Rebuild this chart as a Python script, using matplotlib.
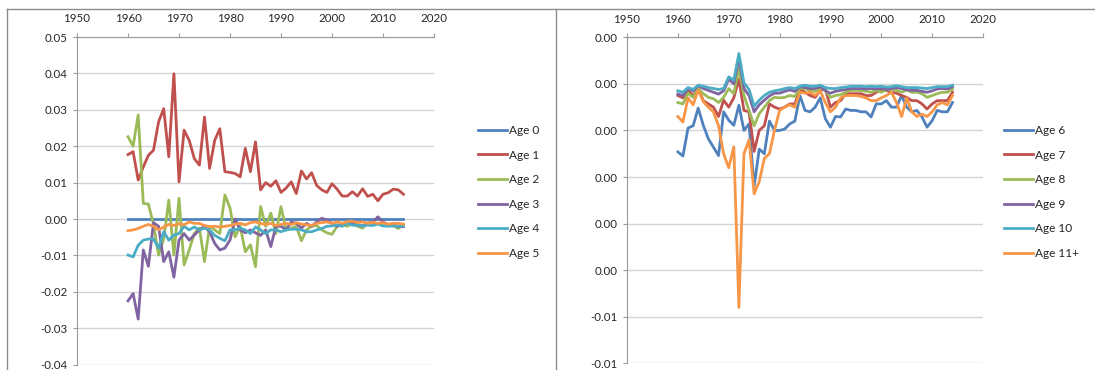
import matplotlib
matplotlib.use("Agg")
import matplotlib.pyplot as plt
from matplotlib.lines import Line2D

# ---------------- data ----------------
years = list(range(1960, 2015))

x_ticks = [1950, 1960, 1970, 1980, 1990, 2000, 2010, 2020]

left_labels = ["Age 0", "Age 1", "Age 2", "Age 3", "Age 4", "Age 5"]
left_yticks = [-0.04, -0.03, -0.02, -0.01, 0.00, 0.01, 0.02, 0.03, 0.04, 0.05]

age0 = [0.0] * 55
age1 = [.0177, .0185, .0107, .0143, .0175, .0189, .0267, .0303, .0171, .0399,
        .0102, .0244, .0216, .0166, .0148, .0280, .0139, .0216, .0248, .0130,
        .0128, .0125, .0116, .0194, .0130, .0212, .0080, .0100, .0090, .0105,
        .0073, .0085, .0102, .0070, .0132, .0110, .0127, .0092, .0080, .0073,
        .0097, .0082, .0063, .0063, .0075, .0063, .0083, .0062, .0068, .0050,
        .0068, .0072, .0082, .0080, .0068]
age2 = [.0226, .0200, .0286, .0043, .0041, -.0015, -.0099, -.0055, .0052, -.0099,
        .0057, -.0126, -.0085, -.0040, -.0025, -.0117, -.0020, -.0030, -.0040, .0066,
        .0030, -.0049, -.0020, -.0090, -.0071, -.0131, .0034, -.0020, .0016, -.0040,
        .0034, -.0030, -.0025, -.0020, -.0060, -.0030, -.0020, -.0018, -.0030, -.0038,
        -.0042, -.0020, -.0015, -.0020, -.0012, -.0020, -.0025, -.0010, -.0015, -.0012,
        -.0018, -.0018, -.0018, -.0026, -.0015]
age3 = [-.0225, -.0205, -.0275, -.0085, -.0130, -.0010, -.0020, -.0117, -.0090, -.0160,
        -.0058, -.0040, -.0058, -.0044, -.0030, -.0020, -.0035, -.0067, -.0085, -.0080,
        -.0058, .0000, -.0030, -.0038, -.0030, -.0038, -.0045, -.0030, -.0076, -.0020,
        -.0020, -.0030, -.0008, -.0012, -.0025, -.0012, -.0020, -.0008, .0002, -.0003,
        -.0012, -.0020, -.0016, -.0010, -.0010, -.0016, -.0019, -.0012, -.0008, .0006,
        -.0008, -.0016, -.0016, -.0021, -.0021]
age4 = [-.0099, -.0104, -.0072, -.0058, -.0055, -.0055, -.0080, -.0035, -.0058, -.0044,
        -.0040, -.0020, -.0030, -.0022, -.0030, -.0025, -.0030, -.0045, -.0053, -.0060,
        -.0030, -.0030, -.0025, -.0030, -.0040, -.0022, -.0030, -.0040, -.0030, -.0030,
        -.0035, -.0030, -.0028, -.0028, -.0030, -.0035, -.0035, -.0030, -.0026, -.0020,
        -.0019, -.0016, -.0020, -.0012, -.0017, -.0017, -.0019, -.0017, -.0018, -.0014,
        -.0019, -.0020, -.0019, -.0020, -.0019]
age5 = [-.0032, -.0030, -.0026, -.0020, -.0015, -.0020, -.0030, -.0022, -.0015, -.0018,
        -.0013, -.0016, -.0008, -.0012, -.0012, -.0018, -.0021, -.0020, -.0022, -.0020,
        -.0018, -.0014, -.0012, -.0016, -.0010, -.0008, -.0012, -.0015, -.0012, -.0018,
        -.0015, -.0012, -.0015, -.0010, -.0014, -.0016, -.0018, -.0012, -.0010, -.0008,
        -.0012, -.0008, -.0012, -.0007, -.0006, -.0010, -.0008, -.0012, -.0009, -.0012,
        -.0010, -.0014, -.0012, -.0012, -.0014]

right_labels = ["Age 6", "Age 7", "Age 8", "Age 9", "Age 10", "Age 11+"]
right_yticks = [-0.006, -0.005, -0.004, -0.003, -0.002, -0.001, 0.000, 0.001]
right_yticklabels = ["-0.01", "-0.01", "0.00", "0.00", "0.00", "0.00", "0.00", "0.00"]

age6 = [-.00146, -.00155, -.00095, -.00090, -.00052, -.00089, -.00118, -.00136, -.00154, -.00060,
        -.00078, -.00089, -.00046, -.00100, -.00086, -.00220, -.00140, -.00150, -.00080, -.00100,
        -.00100, -.00097, -.00086, -.00080, -.00025, -.00057, -.00060, -.00050, -.00030, -.00075,
        -.00093, -.00070, -.00071, -.00054, -.00057, -.00057, -.00060, -.00060, -.00071, -.00043,
        -.00043, -.00036, -.00050, -.00050, -.00025, -.00050, -.00060, -.00057, -.00071, -.00093,
        -.00079, -.00057, -.00060, -.00060, -.00040]
age7 = [-.00025, -.00030, -.00014, -.00025, -.00010, -.00036, -.00043, -.00050, -.00070, -.00035,
        -.00050, -.00030, .00010, -.00057, -.00060, -.00145, -.00100, -.00090, -.00043, -.00050,
        -.00054, -.00050, -.00043, -.00043, -.00011, -.00018, -.00025, -.00029, -.00014, -.00011,
        -.00050, -.00040, -.00036, -.00021, -.00021, -.00021, -.00021, -.00025, -.00025, -.00018,
        -.00014, -.00014, -.00018, -.00020, -.00025, -.00029, -.00036, -.00036, -.00043, -.00054,
        -.00043, -.00036, -.00036, -.00036, -.00018]
age8 = [-.00040, -.00043, -.00020, -.00029, -.00010, -.00021, -.00029, -.00032, -.00040, -.00029,
        -.00010, -.00021, .00033, -.00025, -.00057, -.00090, -.00064, -.00050, -.00036, -.00029,
        -.00030, -.00029, -.00025, -.00027, -.00009, -.00010, -.00014, -.00016, -.00009, -.00014,
        -.00029, -.00025, -.00023, -.00018, -.00014, -.00014, -.00014, -.00016, -.00018, -.00014,
        -.00018, -.00013, -.00011, -.00014, -.00018, -.00013, -.00018, -.00018, -.00021, -.00029,
        -.00025, -.00021, -.00018, -.00018, -.00011]
age9 = [-.00022, -.00025, -.00010, -.00015, -.00004, -.00010, -.00014, -.00018, -.00022, -.00015,
        .00010, .00000, .00055, -.00010, -.00025, -.00060, -.00045, -.00035, -.00026, -.00020,
        -.00020, -.00016, -.00013, -.00016, -.00006, -.00008, -.00010, -.00010, -.00006, -.00015,
        -.00020, -.00016, -.00014, -.00012, -.00010, -.00010, -.00010, -.00011, -.00010, -.00011,
        -.00010, -.00012, -.00010, -.00008, -.00010, -.00013, -.00014, -.00014, -.00016, -.00018,
        -.00015, -.00011, -.00010, -.00011, -.00006]
age10 = [-.00015, -.00018, -.00008, -.00012, -.00003, -.00005, -.00008, -.00010, -.00012, -.00010,
         .00015, .00008, .00065, .00002, -.00012, -.00048, -.00035, -.00025, -.00018, -.00015,
         -.00013, -.00010, -.00008, -.00010, -.00005, -.00003, -.00005, -.00005, -.00003, -.00008,
         -.00010, -.00010, -.00008, -.00007, -.00005, -.00005, -.00005, -.00006, -.00005, -.00006,
         -.00005, -.00007, -.00006, -.00004, -.00006, -.00008, -.00008, -.00008, -.00009, -.00010,
         -.00008, -.00006, -.00006, -.00006, -.00003]
age11 = [-.00070, -.00082, -.00030, -.00045, -.00013, -.00038, -.00050, -.00060, -.00090, -.00150,
         -.00180, -.00135, -.00480, -.00150, -.00120, -.00236, -.00210, -.00160, -.00150, -.00100,
         -.00057, -.00050, -.00045, -.00050, -.00018, -.00020, -.00018, -.00025, -.00015, -.00040,
         -.00060, -.00050, -.00030, -.00025, -.00025, -.00025, -.00027, -.00030, -.00036, -.00036,
         -.00030, -.00025, -.00018, -.00040, -.00070, -.00030, -.00060, -.00070, -.00065, -.00070,
         -.00060, -.00045, -.00040, -.00045, -.00025]

colors = ["#4F81BD", "#C0504D", "#9BBB59", "#8064A2", "#4BACC6", "#F79646"]

# ---------------- figure ----------------
W, H = 1095, 370
plt.rcParams["font.family"] = ["Lato", "DejaVu Sans"]
fig = plt.figure(figsize=(W / 100, H / 100), dpi=100)
fig.patch.set_facecolor("white")


def px_rect(x0, y_top, x1, y_bot):
    return [x0 / W, 1 - y_bot / H, (x1 - x0) / W, (y_bot - y_top) / H]


def style_axis(ax, yticks, yticklabels, ylim):
    ax.set_xlim(1950, 2020)
    ax.set_ylim(*ylim)
    ax.xaxis.tick_top()
    ax.set_xticks(x_ticks)
    ax.set_xticklabels([str(t) for t in x_ticks])
    ax.set_yticks(yticks)
    ax.set_yticklabels(yticklabels)
    for s in ("bottom", "right"):
        ax.spines[s].set_visible(False)
    for s in ("left", "top"):
        ax.spines[s].set_color("#9a9a9a")
        ax.spines[s].set_linewidth(0.8)
    ax.tick_params(axis="x", which="both", direction="out", length=3, width=0.8,
                   color="#9a9a9a", pad=6, labelsize=8.3, labelcolor="#262626")
    ax.tick_params(axis="y", which="both", direction="out", length=3, width=0.8,
                   color="#9a9a9a", pad=4, labelsize=8.3, labelcolor="#262626")
    ax.grid(axis="y", color="#d4d4d4", linewidth=1.0)
    ax.set_axisbelow(True)
    ax.set_facecolor("white")


ax1 = fig.add_axes(px_rect(77, 37, 434, 364.6))
ax2 = fig.add_axes(px_rect(627, 37.3, 983, 363.3))

style_axis(ax1, left_yticks, [f"{v:.2f}" for v in left_yticks], (-0.04, 0.05))
style_axis(ax2, right_yticks, right_yticklabels, (-0.006, 0.001))

left_series = [age0, age1, age2, age3, age4, age5]
right_series = [age6, age7, age8, age9, age10, age11]

h1 = []
for vals, c, lab in zip(left_series, colors, left_labels):
    ln, = ax1.plot(years, vals, color=c, lw=2.0, label=lab, clip_on=False)
    h1.append(ln)
h2 = []
for vals, c, lab in zip(right_series, colors, right_labels):
    ln, = ax2.plot(years, vals, color=c, lw=2.0, label=lab, clip_on=False)
    h2.append(ln)

leg_kw = dict(frameon=False, fontsize=8.6, handlelength=2.4, handletextpad=0.2,
              labelspacing=1.14, borderpad=0, borderaxespad=0, loc="upper left",
              bbox_transform=fig.transFigure, labelcolor="#262626")
fig.legend(handles=h1, labels=left_labels, bbox_to_anchor=(478 / W, 1 - 125 / H), **leg_kw)
fig.legend(handles=h2, labels=right_labels, bbox_to_anchor=(1004 / W, 1 - 125 / H), **leg_kw)

# chart area borders
border = dict(color="#8c8c8c", lw=1.0, transform=fig.transFigure)
fig.add_artist(Line2D([7 / W, 7 / W], [0, 1 - 9 / H], **border))
fig.add_artist(Line2D([7 / W, 1], [1 - 9 / H, 1 - 9 / H], **border))
fig.add_artist(Line2D([556 / W, 556 / W], [0, 1 - 9 / H], **border))

fig.savefig("out.png", dpi=100, facecolor="white")
